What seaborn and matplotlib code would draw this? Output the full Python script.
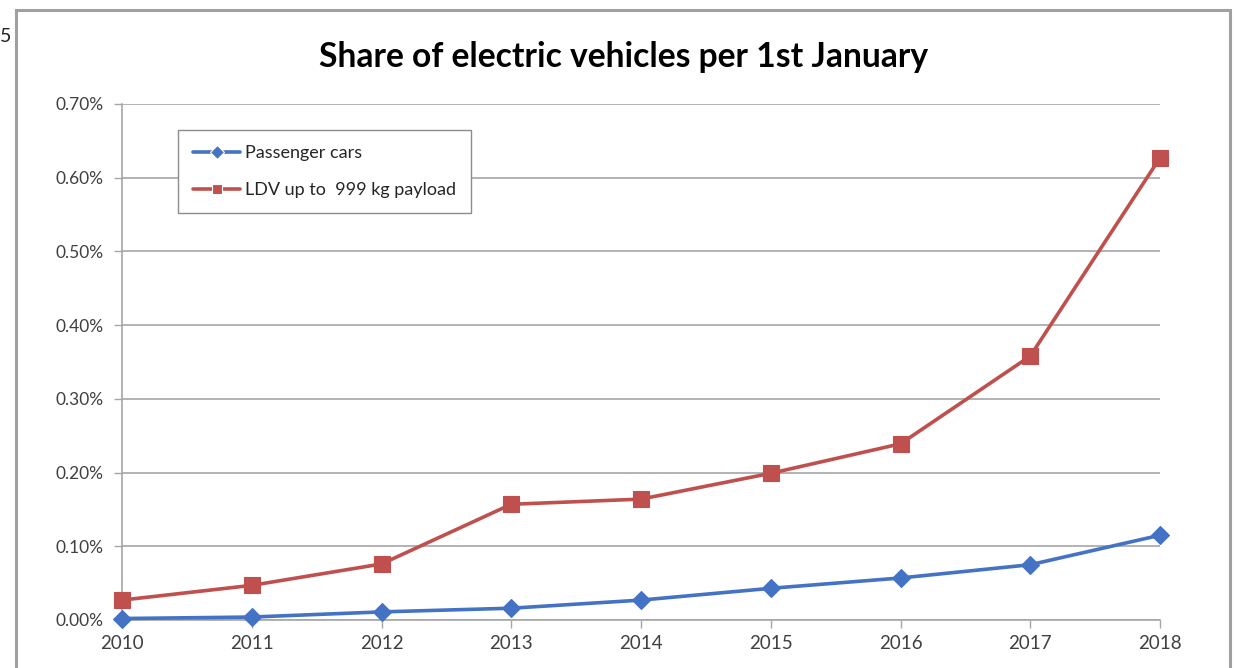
import matplotlib
matplotlib.use("Agg")
import matplotlib.pyplot as plt
from matplotlib.patches import Rectangle
from matplotlib.ticker import FuncFormatter, MultipleLocator
import seaborn as sns
import pandas as pd

years = [2010, 2011, 2012, 2013, 2014, 2015, 2016, 2017, 2018]
passenger_cars = [0.002, 0.004, 0.011, 0.016, 0.027, 0.043, 0.057, 0.075, 0.115]
ldv_999 = [0.027, 0.047, 0.076, 0.157, 0.164, 0.199, 0.239, 0.358, 0.627]
series_names = ["Passenger cars", "LDV up to  999 kg payload"]
title = "Share of electric vehicles per 1st January"

df = pd.DataFrame({
    "year": years * 2,
    "share": passenger_cars + ldv_999,
    "series": [series_names[0]] * len(years) + [series_names[1]] * len(years),
})

sns.set_style("white")
plt.rcParams["font.family"] = ["Lato", "DejaVu Sans"]

W, H = 1234, 668
fig = plt.figure(figsize=(W / 100, H / 100), dpi=100)
ax = fig.add_axes([122 / W, 1 - 620 / H, (1160 - 122) / W, (620 - 104) / H])

palette = {series_names[0]: "#4472C4", series_names[1]: "#C0504D"}
markers = {series_names[0]: "D", series_names[1]: "s"}
sizes = {series_names[0]: 9, series_names[1]: 11}

sns.lineplot(data=df, x="year", y="share", hue="series", style="series",
             palette=palette, markers=markers, dashes=False, linewidth=2.6,
             markersize=10, markeredgewidth=0.8, ax=ax, legend=True)
for line, name in zip(ax.lines, series_names):
    line.set_markersize(sizes[name])
    line.set_markeredgecolor(palette[name])
    line.set_clip_on(False)
    line.set_zorder(3)

ax.set_xlim(2010, 2018)
ax.set_ylim(0, 0.7)
ax.yaxis.set_major_locator(MultipleLocator(0.1))
ax.yaxis.set_major_formatter(FuncFormatter(lambda v, p: f"{v:.2f}%"))
ax.set_xticks(years)
ax.set_xticklabels([str(y) for y in years])
ax.set_xlabel("")
ax.set_ylabel("")

ax.grid(axis="y", color="#a6a6a6", linewidth=1.2)
ax.grid(axis="x", visible=False)
for s in ["top", "right"]:
    ax.spines[s].set_visible(False)
for s in ["left", "bottom"]:
    ax.spines[s].set_color("#a6a6a6")
    ax.spines[s].set_linewidth(1.2)

ax.tick_params(axis="both", which="major", length=6, width=1.0, color="#a6a6a6",
               labelsize=12.5, labelcolor="#404040", direction="out")
ax.tick_params(axis="y", pad=7)
ax.tick_params(axis="x", pad=5, labelsize=13.5)
ax.yaxis.set_ticks_position("left")
ax.xaxis.set_ticks_position("bottom")

handles, labels = ax.get_legend_handles_labels()
ax.legend(handles, labels, loc="upper left",
          bbox_to_anchor=(178 / W, 1 - 130 / H), bbox_transform=fig.transFigure,
          borderaxespad=0,
          frameon=True, fancybox=False, edgecolor="#8c8c8c", framealpha=1,
          fontsize=13, handlelength=2.6, handletextpad=0.25,
          borderpad=0.85, labelspacing=1.15, markerscale=0.7)
leg = ax.get_legend()
leg.get_frame().set_linewidth(1.0)
for t in leg.get_texts():
    t.set_color("#262626")

fig.text(0.5 * (316 + 932) / W, 1 - 57 / H, title, ha="center", va="center",
         fontsize=24.2, fontweight="bold", color="#000000")

fig.text(0.0, 1 - 36 / H, "5", ha="left", va="center", fontsize=14, color="#222222")

fig.patches.append(Rectangle((16 / W, -0.05), (1230 - 16) / W, 1 - 10 / H + 0.05,
                             transform=fig.transFigure, fill=False,
                             edgecolor="#a0a0a0", linewidth=2.2))

fig.savefig("out.png", dpi=100)
